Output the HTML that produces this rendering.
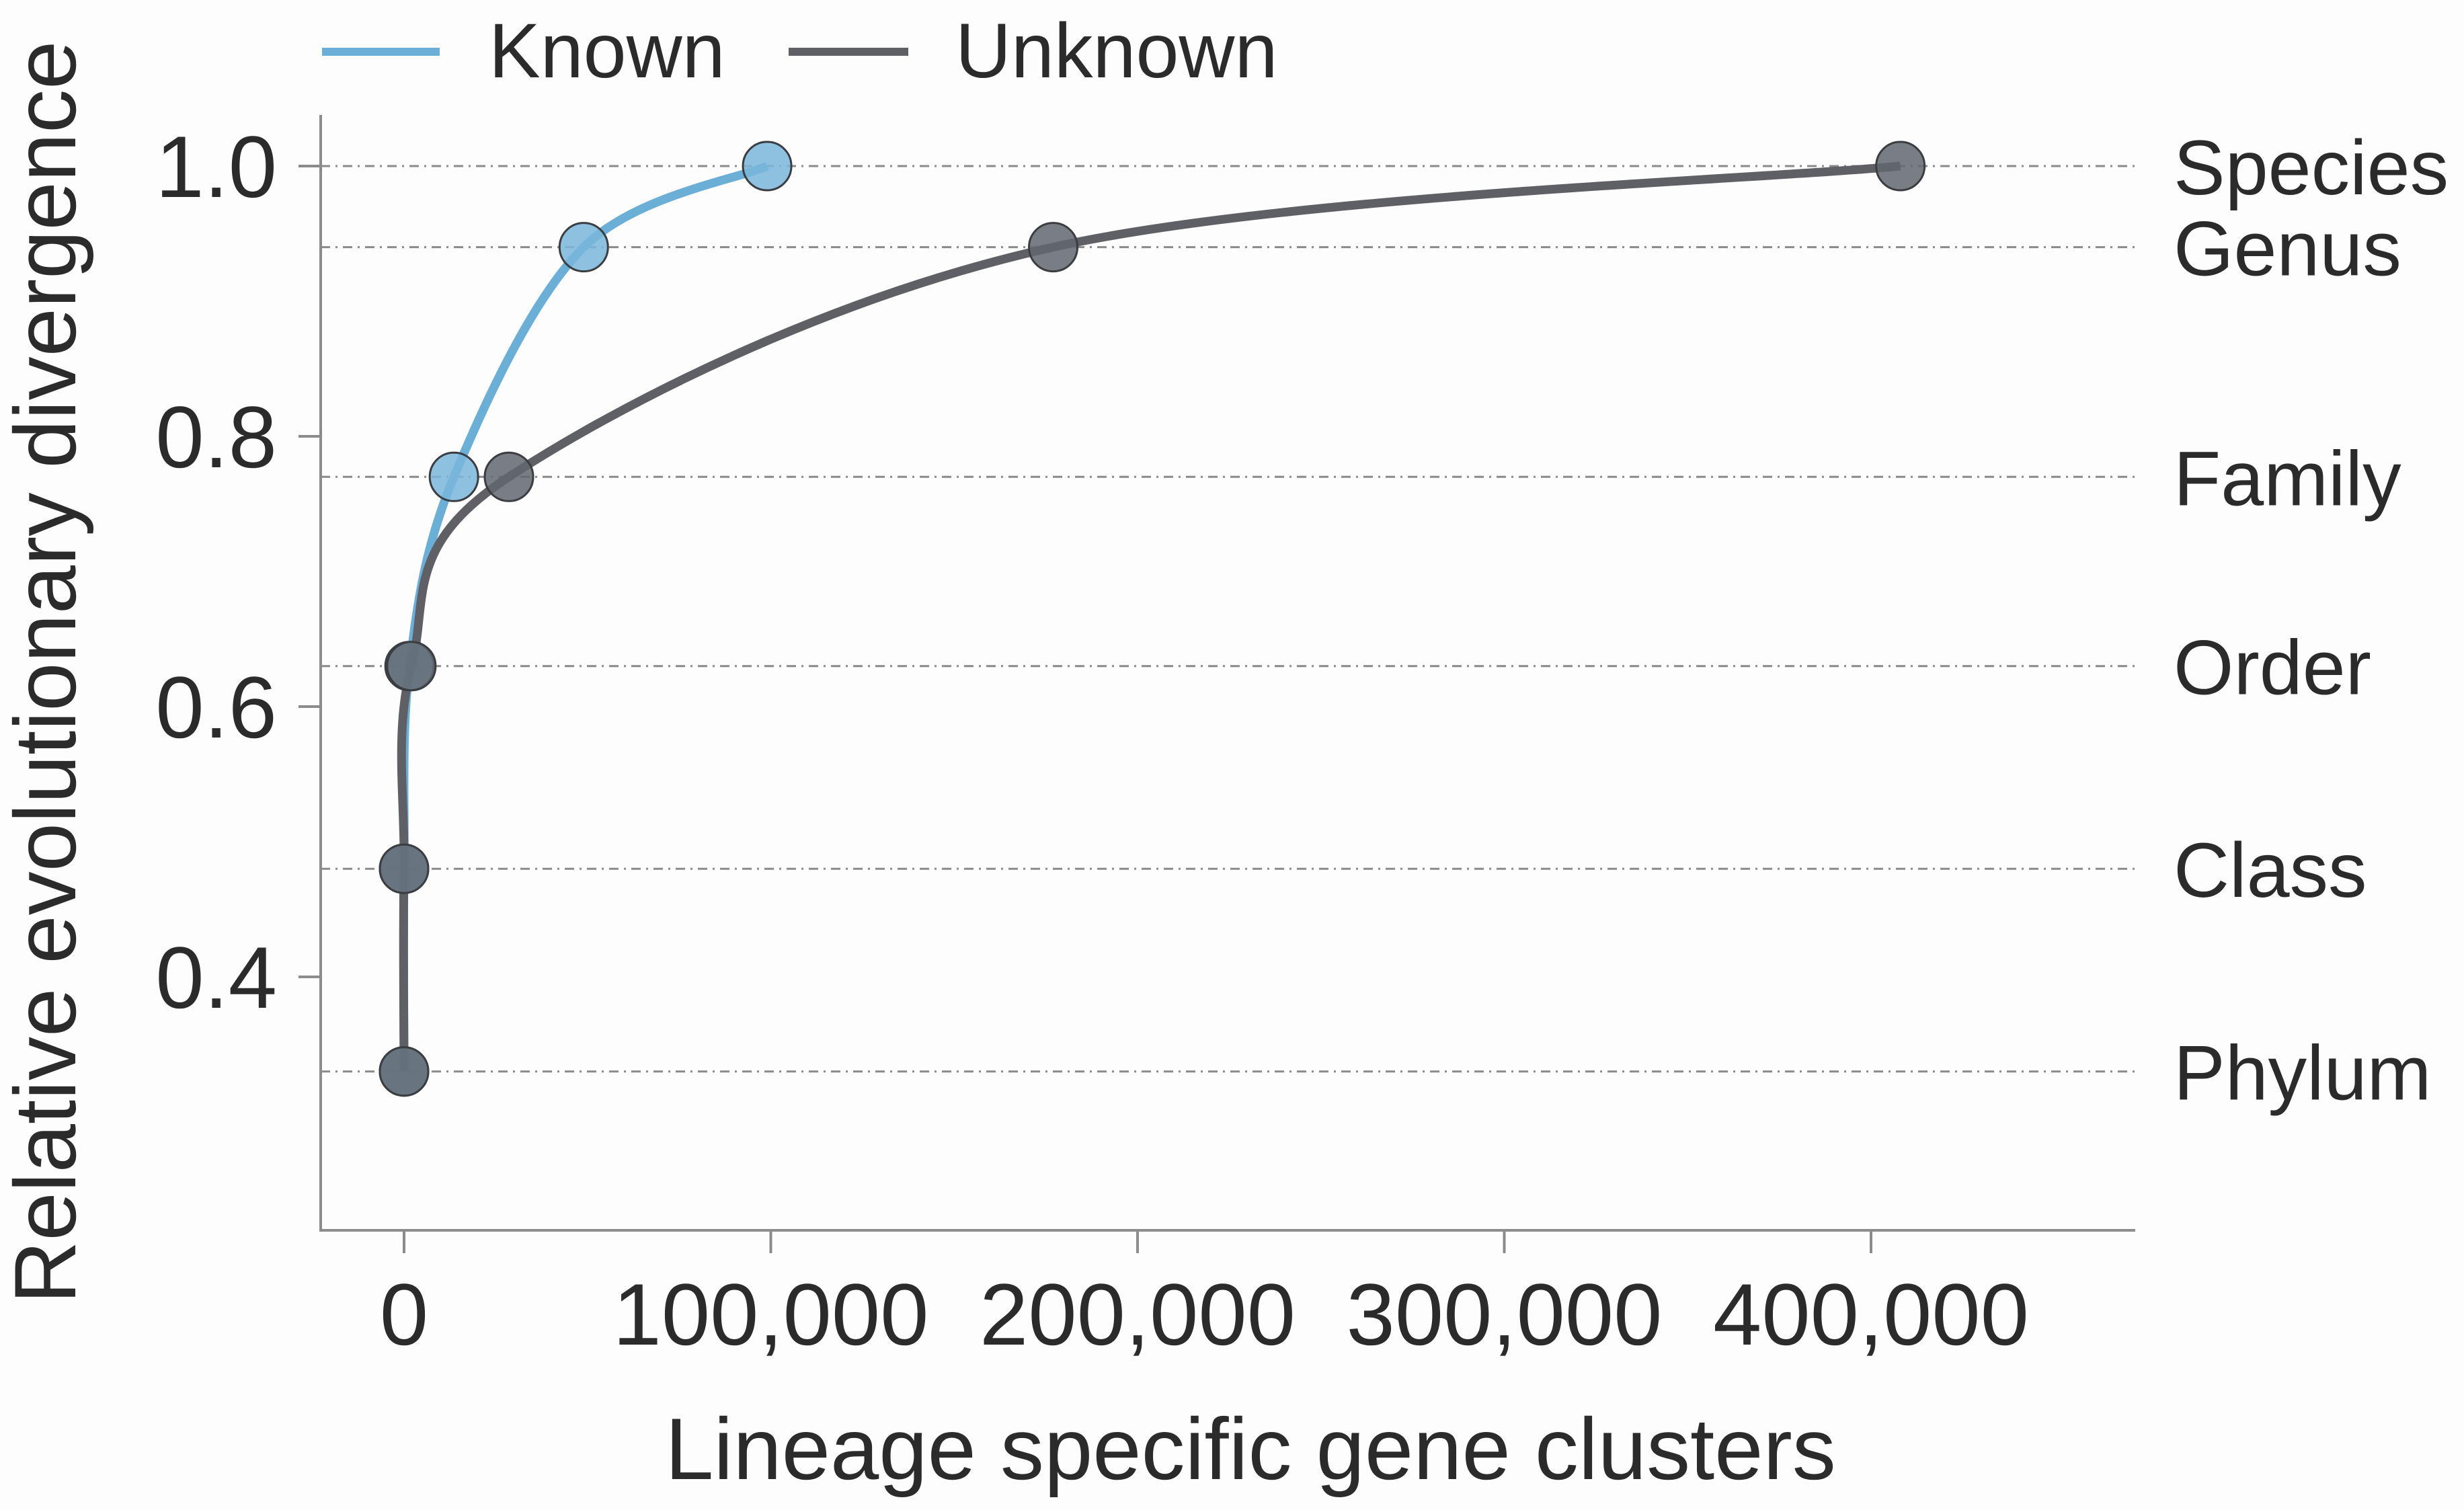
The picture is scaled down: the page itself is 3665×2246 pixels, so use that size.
<!DOCTYPE html>
<html><head><meta charset="utf-8"><style>
html,body{margin:0;padding:0;background:#fdfdfd;}
svg{display:block;font-family:"Liberation Sans",Arial,sans-serif;}
</style></head><body>
<svg id="chart" width="3665" height="2246" viewBox="0 0 3665 2246">
<rect width="3665" height="2246" fill="#fdfdfd"/>
<g id="grid"></g>
<g id="axes"></g>
<g id="series"></g>
<g id="legend">
  <line x1="479" y1="77" x2="654" y2="77" stroke="#6baed6" stroke-width="12"/>
  <text x="727" y="115" font-size="115" fill="#2b2b2b">Known</text>
  <line x1="1173" y1="77" x2="1351" y2="77" stroke="#5f6066" stroke-width="12"/>
  <text x="1421" y="115" font-size="115" fill="#2b2b2b">Unknown</text>
</g>
<text x="1860" y="2200" font-size="130" fill="#2b2b2b" text-anchor="middle">Lineage specific gene clusters</text>
<text transform="translate(112,1000) rotate(-90)" font-size="130" fill="#2b2b2b" text-anchor="middle">Relative evolutionary divergence</text>
</svg>
<script>
const ranks = ["Phylum","Class","Order","Family","Genus","Species"];
const rankRED = [0.33,0.48,0.63,0.77,0.94,1.0];
const knownX = [0,0,1500,13600,49000,99000];
const unknownX = [0,0,2000,28600,177000,408000];
const xTicks = [0,100000,200000,300000,400000];
const xTickLabels = ["0","100,000","200,000","300,000","400,000"];
const yTicks = [0.4,0.6,0.8,1.0];
const yTickLabels = ["0.4","0.6","0.8","1.0"];

const NS="http://www.w3.org/2000/svg";
const X0=601, XS=545.5/100000;
const Y1=247, YS=2010;
function xs(v){return X0+v*XS;}
function ys(v){return Y1+(1-v)*YS;}
function mk(tag,attrs,parent){const e=document.createElementNS(NS,tag);for(const k in attrs)e.setAttribute(k,attrs[k]);parent.appendChild(e);return e;}

const grid=document.getElementById('grid');
rankRED.forEach((r,i)=>{
  const l=mk('line',{x1:477,x2:3178,y1:ys(r),y2:ys(r),stroke:'#8a8a8a','stroke-width':3,'stroke-dasharray':'14 8 3 8'},grid);
  
  
  const t=mk('text',{x:3233,y:ys(r)+42,'font-size':115,fill:'#2b2b2b'},grid);
  t.textContent=ranks[i];
  
  
});

const axes=document.getElementById('axes');
const ya=mk('line',{x1:477,x2:477,y1:171,y2:1831,stroke:'#8c8c8c','stroke-width':4},axes);


const xa=mk('line',{x1:475,x2:3176,y1:1830,y2:1830,stroke:'#8c8c8c','stroke-width':4},axes);


yTicks.forEach((v,i)=>{
  const t=mk('line',{x1:444,x2:477,y1:ys(v),y2:ys(v),stroke:'#8c8c8c','stroke-width':4},axes);
  
  
  const l=mk('text',{x:412,y:ys(v)+46,'font-size':130,fill:'#2b2b2b','text-anchor':'end'},axes);
  l.textContent=yTickLabels[i];
  
  
});
xTicks.forEach((v,i)=>{
  const t=mk('line',{x1:xs(v),x2:xs(v),y1:1830,y2:1864,stroke:'#8c8c8c','stroke-width':4},axes);
  
  
  const l=mk('text',{x:xs(v),y:2000,'font-size':130,fill:'#2b2b2b','text-anchor':'middle'},axes);
  l.textContent=xTickLabels[i];
  
  
});

function smoothPath(pts){
  let d='M'+pts[0][0]+','+pts[0][1];
  for(let i=0;i<pts.length-1;i++){
    const p0=pts[Math.max(0,i-1)],p1=pts[i],p2=pts[i+1],p3=pts[Math.min(pts.length-1,i+2)];
    const c1=[p1[0]+(p2[0]-p0[0])/6,p1[1]+(p2[1]-p0[1])/6];
    const c2=[p2[0]-(p3[0]-p1[0])/6,p2[1]-(p3[1]-p1[1])/6];
    d+=' C'+c1[0]+','+c1[1]+' '+c2[0]+','+c2[1]+' '+p2[0]+','+p2[1];
  }
  return d;
}
const series=document.getElementById('series');
function drawSeries(xv,name,lineCol){
  const pts=xv.map((x,i)=>[xs(x),ys(rankRED[i])]);
  const p=mk('path',{d:smoothPath(pts),fill:'none',stroke:lineCol,'stroke-width':13,'stroke-linejoin':'round'},series);
  
  
  return pts;
}
function drawPoints(pts,name,fillCol){
  pts.forEach((pt,i)=>{
    const c=mk('circle',{cx:pt[0],cy:pt[1],r:36,fill:fillCol,'fill-opacity':0.85,stroke:'#3a3d42','stroke-width':3},series);
    
    
  });
}
const kp=drawSeries(knownX,'known','#6baed6');
const up=drawSeries(unknownX,'unknown','#5f6066');
drawPoints(kp,'known','#7ab6da');
drawPoints(up,'unknown','#62676e');
</script>
</body></html>
